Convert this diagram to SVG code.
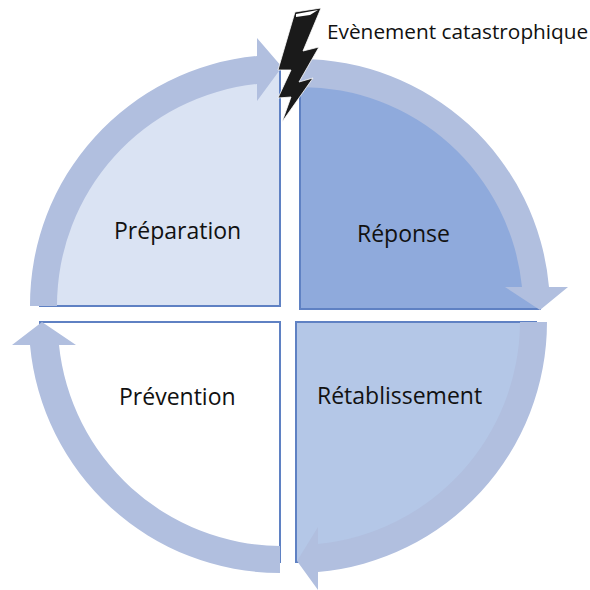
<svg xmlns="http://www.w3.org/2000/svg" width="590" height="590" viewBox="0 0 590 590">
<style>
.s{stroke:#5f81c3;stroke-width:2}
.a{fill:#b1bfdf}
text{font-family:"Open Sans","Noto Sans",sans-serif;font-size:23px;fill:#111}
</style>
<rect width="590" height="590" fill="#fff"/>
<g id="preparation"><path class="s" d="M280 66V306H40A240 240 0 0 1 280 66Z" fill="#dae3f3"/><text x="114" y="239">Préparation</text></g>
<g id="reponse"><path class="s" d="M300 69V309H540A240 240 0 0 0 300 69Z" fill="#8faadc"/><text x="357" y="242">Réponse</text></g>
<g id="retablissement"><path class="s" d="M296 562V322H536A240 240 0 0 1 296 562Z" fill="#b4c7e7"/><text x="317" y="404">Rétablissement</text></g>
<g id="prevention"><path class="s" d="M280 562V322H40A240 240 0 0 0 280 562Z" fill="#fff"/><text x="119" y="405">Prévention</text></g>
<g id="connectors">
<path class="a" d="M30 306A250 250 0 0 1 257 56V38L282 67L257 101V84A223 223 0 0 0 57 306Z"/>
<path class="a" d="M300 59A250 250 0 0 1 549 287H568L540 310L505 287H522A222 222 0 0 0 300 87Z"/>
<path class="a" d="M547 322A251 251 0 0 1 318 572V590L297 561L318 527V544A224 224 0 0 0 520 322Z"/>
<path class="a" d="M280 573A251 251 0 0 1 30 345H12L42 322L76 345H59A224 224 0 0 0 280 546Z"/>
</g>
<g id="evenement">
<path d="M295 12L321 8L303 51L319 47L299 82L313 78L282 122L291 97L278 98L291 70L278 70Z" fill="#1a1a1a" stroke="#fff" stroke-width="0.8"/>
<path d="M296 14L318 10L310 15L296 17Z M304 50L311 47.500L304 48.500Z" fill="#fff"/>
<text x="327" y="39" style="font-size:20.800px">Evènement catastrophique</text>
</g>
</svg>
